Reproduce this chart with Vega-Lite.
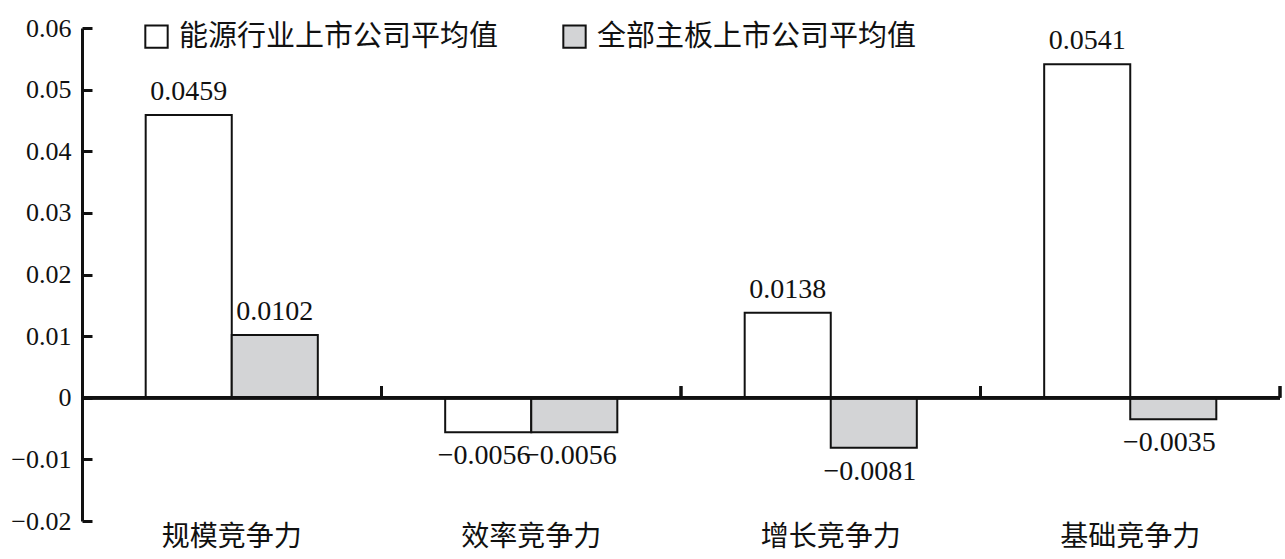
{
  "$schema": "https://vega.github.io/schema/vega-lite/v6.json",
  "autosize": {"type": "none"},
  "padding": {"left": 82, "top": 28, "right": 5, "bottom": 38},
  "width": 1198,
  "height": 493,
  "background": "white",
  "config": {"view": {"stroke": null}, "font": "Liberation Serif"},
  "data": {
    "values": [
      {"cat": "规模竞争力", "series": "能源行业上市公司平均值", "v": 0.0459},
      {"cat": "规模竞争力", "series": "全部主板上市公司平均值", "v": 0.0102},
      {"cat": "效率竞争力", "series": "能源行业上市公司平均值", "v": -0.0056},
      {"cat": "效率竞争力", "series": "全部主板上市公司平均值", "v": -0.0056},
      {"cat": "增长竞争力", "series": "能源行业上市公司平均值", "v": 0.0138},
      {"cat": "增长竞争力", "series": "全部主板上市公司平均值", "v": -0.0081},
      {"cat": "基础竞争力", "series": "能源行业上市公司平均值", "v": 0.0541},
      {"cat": "基础竞争力", "series": "全部主板上市公司平均值", "v": -0.0035}
    ]
  },
  "encoding": {
    "x": {
      "field": "cat", "type": "nominal", "sort": null,
      "scale": {"paddingInner": 0, "paddingOuter": 0},
      "axis": {
        "title": null, "domain": false, "ticks": false, "labelAngle": 0,
        "labelFont": "Noto Sans CJK SC", "labelFontSize": 28, "labelColor": "#111",
        "labelPadding": 2, "labelBaseline": "top"
      }
    },
    "y": {
      "field": "v", "type": "quantitative",
      "scale": {"domain": [-0.02, 0.06], "nice": false, "zero": false},
      "axis": {
        "title": null, "grid": false, "values": [-0.02, -0.01, 0, 0.01, 0.02, 0.03, 0.04, 0.05, 0.06],
        "format": ".2~f", "domainColor": "#111", "domainWidth": 3, "labelOverlap": false,
        "tickColor": "#111", "tickWidth": 3, "tickSize": -10,
        "labelFontSize": 26, "labelColor": "#111", "labelPadding": 21,
        "labelFont": "Liberation Serif"
      }
    }
  },
  "layer": [
    {
      "mark": {"type": "bar", "stroke": "#111", "strokeWidth": 2},
      "encoding": {
        "xOffset": {"field": "series", "type": "nominal", "sort": null,
          "scale": {"paddingInner": 0, "paddingOuter": 0.74}},
        "y2": {"datum": 0},
        "fill": {
          "field": "series", "type": "nominal", "sort": null,
          "scale": {"range": ["#ffffff", "#d3d4d6"]},
          "legend": {
            "title": null, "orient": "none", "direction": "horizontal",
            "legendX": 60, "legendY": -6,
            "symbolType": "square", "symbolSize": 500,
            "symbolStrokeColor": "#111", "symbolStrokeWidth": 2,
            "labelFont": "Noto Sans CJK SC", "labelFontSize": 29, "labelColor": "#111",
            "labelLimit": 500, "columnPadding": 60, "labelOffset": 8
          }
        }
      }
    },
    {
      "mark": {"type": "rule", "stroke": "#111", "strokeWidth": 3},
      "encoding": {"y": {"datum": 0}, "x": null}
    },
    {
      "mark": {"type": "rule", "stroke": "#111", "strokeWidth": 3},
      "encoding": {
        "x": {"field": "cat", "type": "nominal", "sort": null, "bandPosition": 1},
        "y": {"datum": 0},
        "y2": {"datum": 0.0019}
      }
    },
    {
      "transform": [{"filter": "datum.v >= 0"}],
      "mark": {"type": "text", "baseline": "alphabetic", "dy": -15, "fontSize": 28, "font": "Liberation Serif", "color": "#111"},
      "encoding": {
        "xOffset": {"field": "series", "type": "nominal", "sort": null},
        "text": {"field": "v", "type": "quantitative", "format": ".4f"}
      }
    },
    {
      "transform": [{"filter": "datum.v < 0"}],
      "mark": {"type": "text", "baseline": "top", "dy": 10, "dx": -4, "fontSize": 28, "font": "Liberation Serif", "color": "#111"},
      "encoding": {
        "xOffset": {"field": "series", "type": "nominal", "sort": null},
        "text": {"field": "v", "type": "quantitative", "format": ".4f"}
      }
    }
  ]
}
